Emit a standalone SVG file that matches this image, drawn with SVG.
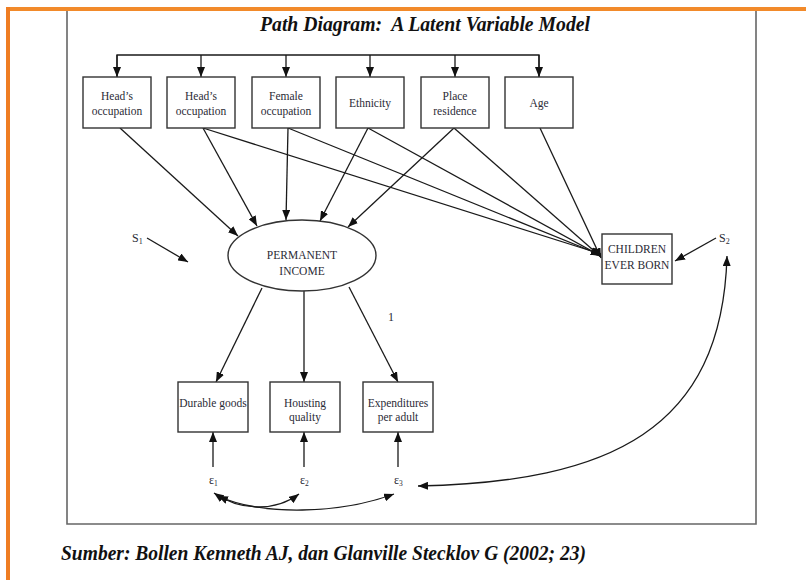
<svg xmlns="http://www.w3.org/2000/svg" width="806" height="580" viewBox="0 0 806 580">
  <style>
    .frame { fill: none; stroke: #666; stroke-width: 1.6; }
    .box { fill: #fff; stroke: #333; stroke-width: 1.4; }
    .lbl { font-family: "Liberation Serif", "Times New Roman", serif; font-size: 11.5px; fill: #2b2b36; text-anchor: middle; }
    .sym { font-family: "Liberation Serif", "Times New Roman", serif; font-size: 12px; fill: #2b2b36; }
    .head { font-family: "Liberation Serif", "Times New Roman", serif; font-weight: bold; font-style: italic; fill: #111; }
    .edge { fill: none; stroke: #1a1a1a; stroke-width: 1.3; }
    .arr { marker-end: url(#ah); }
    .both { marker-start: url(#ah); marker-end: url(#ah); }
  </style>
  <defs>
    <marker id="ah" markerUnits="userSpaceOnUse" markerWidth="11" markerHeight="8" refX="10" refY="4" orient="auto-start-reverse">
      <path d="M0,0 L10,4 L0,8 z" fill="#111"/>
    </marker>
  </defs>

  <rect width="806" height="580" fill="#fff"/>

  <!-- page border -->
  <line x1="6" y1="9" x2="806" y2="9" stroke="#f28a2a" stroke-width="4"/>
  <line x1="8" y1="7" x2="8" y2="580" stroke="#ef7d22" stroke-width="4"/>

  <!-- figure frame -->
  <path class="frame" d="M67,11 V524 H756 V11"/>

  <text class="head" x="425" y="31" font-size="20" text-anchor="middle" textLength="330" lengthAdjust="spacingAndGlyphs">Path Diagram:&#160; A Latent Variable Model</text>

  <!-- connectors -->
  <g id="connectors">
    <!-- covariance bus over the exogenous variables -->
    <path class="edge" d="M117,77 V55 H539 V77"/>
    <line class="edge arr" x1="117" y1="55" x2="117" y2="77"/>
    <line class="edge arr" x1="201" y1="55" x2="201" y2="77"/>
    <line class="edge arr" x1="286" y1="55" x2="286" y2="77"/>
    <line class="edge arr" x1="370" y1="55" x2="370" y2="77"/>
    <line class="edge arr" x1="455" y1="55" x2="455" y2="77"/>
    <line class="edge arr" x1="539" y1="55" x2="539" y2="77"/>

    <!-- exogenous -> permanent income -->
    <line class="edge arr" x1="120" y1="128" x2="238" y2="236"/>
    <line class="edge arr" x1="203" y1="128" x2="257" y2="226"/>
    <line class="edge arr" x1="288" y1="128" x2="286" y2="220"/>
    <line class="edge arr" x1="368" y1="128" x2="320" y2="221"/>
    <line class="edge arr" x1="454" y1="128" x2="348" y2="227"/>

    <!-- exogenous -> children ever born -->
    <line class="edge arr" x1="203" y1="128" x2="601" y2="254"/>
    <line class="edge arr" x1="288" y1="128" x2="601" y2="255"/>
    <line class="edge arr" x1="368" y1="128" x2="601" y2="256"/>
    <line class="edge arr" x1="454" y1="128" x2="601" y2="257"/>
    <line class="edge arr" x1="540" y1="128" x2="601" y2="258"/>

    <!-- disturbances -->
    <line class="edge arr" x1="147" y1="238" x2="188" y2="262"/>
    <line class="edge arr" x1="716" y1="238" x2="675" y2="261"/>

    <!-- permanent income -> indicators -->
    <line class="edge arr" x1="262" y1="288" x2="216" y2="382"/>
    <line class="edge arr" x1="304" y1="291" x2="304" y2="382"/>
    <line class="edge arr" x1="349" y1="287" x2="398" y2="382"/>

    <!-- errors -> indicators -->
    <line class="edge arr" x1="213" y1="467" x2="213" y2="432"/>
    <line class="edge arr" x1="304" y1="467" x2="304" y2="432"/>
    <line class="edge arr" x1="398" y1="467" x2="398" y2="432"/>

    <!-- correlated errors -->
    <path class="edge both" d="M214,493 C240,511 275,512 299,494"/>
    <path class="edge both" d="M218,496 C262,516 340,514 394,494"/>
    <path class="edge both" d="M418,486 C610,482 722,430 727,256"/>
  </g>

  <!-- exogenous variables -->
  <g id="heads-occupation-1">
    <rect class="box" x="83" y="77" width="68" height="51"/>
    <text class="lbl" x="117" y="100">Head’s</text>
    <text class="lbl" x="117" y="115">occupation</text>
  </g>
  <g id="heads-occupation-2">
    <rect class="box" x="167" y="77" width="68" height="51"/>
    <text class="lbl" x="201" y="100">Head’s</text>
    <text class="lbl" x="201" y="115">occupation</text>
  </g>
  <g id="female-occupation">
    <rect class="box" x="252" y="77" width="68" height="51"/>
    <text class="lbl" x="286" y="100">Female</text>
    <text class="lbl" x="286" y="115">occupation</text>
  </g>
  <g id="ethnicity">
    <rect class="box" x="336" y="77" width="68" height="51"/>
    <text class="lbl" x="370" y="107">Ethnicity</text>
  </g>
  <g id="place-residence">
    <rect class="box" x="421" y="77" width="68" height="51"/>
    <text class="lbl" x="455" y="100">Place</text>
    <text class="lbl" x="455" y="115">residence</text>
  </g>
  <g id="age">
    <rect class="box" x="505" y="77" width="68" height="51"/>
    <text class="lbl" x="539" y="107">Age</text>
  </g>

  <!-- latent variable -->
  <g id="permanent-income">
    <ellipse cx="302" cy="255.5" rx="74" ry="35.5" fill="#fff" stroke="#333" stroke-width="1.4"/>
    <text class="lbl" x="302" y="259">PERMANENT</text>
    <text class="lbl" x="302" y="275">INCOME</text>
  </g>

  <g id="children-ever-born">
    <rect class="box" x="602" y="234" width="70" height="50"/>
    <text class="lbl" x="637" y="253">CHILDREN</text>
    <text class="lbl" x="637" y="269">EVER BORN</text>
  </g>

  <g id="s1"><text class="sym" x="132" y="242">S<tspan font-size="8" dy="2">1</tspan></text></g>
  <g id="s2"><text class="sym" x="719" y="242">S<tspan font-size="8" dy="2">2</tspan></text></g>
  <g id="loading"><text class="sym" x="388" y="321">1</text></g>

  <!-- indicators -->
  <g id="durable-goods">
    <rect class="box" x="178" y="382" width="70" height="50"/>
    <text class="lbl" x="213" y="407">Durable goods</text>
  </g>
  <g id="housing-quality">
    <rect class="box" x="270" y="382" width="70" height="50"/>
    <text class="lbl" x="305" y="407">Housting</text>
    <text class="lbl" x="305" y="421">quality</text>
  </g>
  <g id="expenditures">
    <rect class="box" x="363" y="382" width="70" height="50"/>
    <text class="lbl" x="398" y="407">Expenditures</text>
    <text class="lbl" x="398" y="421">per adult</text>
  </g>

  <g id="e1"><text class="sym" x="209" y="484" font-size="12">ε<tspan font-size="7.5" dy="1.5">1</tspan></text></g>
  <g id="e2"><text class="sym" x="300" y="484" font-size="12">ε<tspan font-size="7.5" dy="1.5">2</tspan></text></g>
  <g id="e3"><text class="sym" x="394" y="484" font-size="12">ε<tspan font-size="7.5" dy="1.5">3</tspan></text></g>

  <text class="head" x="61" y="560" font-size="20" textLength="525" lengthAdjust="spacingAndGlyphs">Sumber: Bollen Kenneth AJ, dan Glanville Stecklov G (2002; 23)</text>
</svg>
